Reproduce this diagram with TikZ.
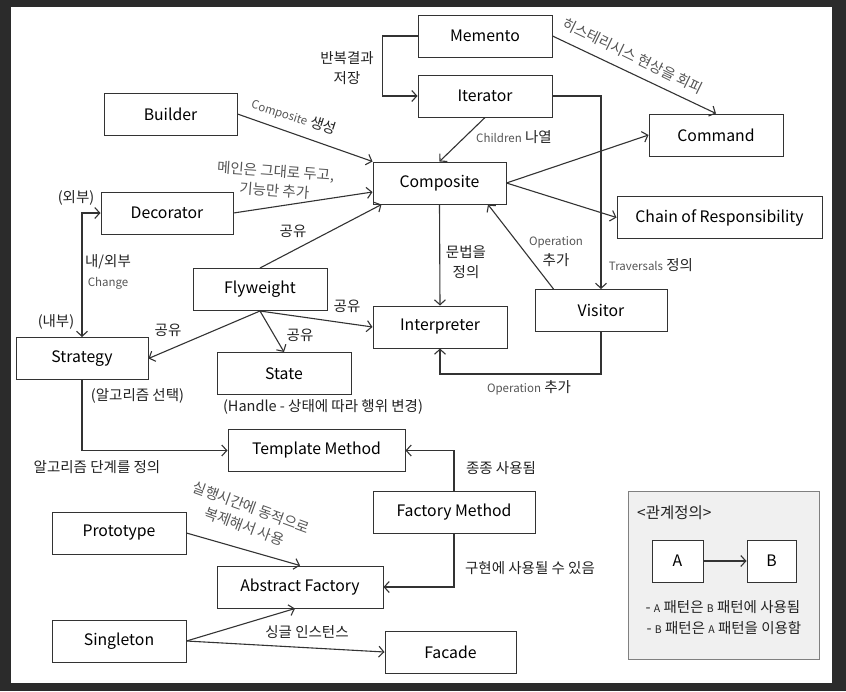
\documentclass[tikz,border=0pt]{standalone}
\usepackage{fontspec}
\setmainfont{Noto Sans CJK KR}
\usetikzlibrary{arrows.meta,calc}
\definecolor{bgdark}{HTML}{2B2B2B}
\definecolor{linec}{HTML}{333333}
\definecolor{txt}{HTML}{222222}
\definecolor{smallc}{HTML}{555555}
\definecolor{legf}{HTML}{F0F0F0}
\definecolor{legc}{HTML}{808080}
\newcommand\glat[1]{{\color{smallc}\fontsize{11.5}{13}\selectfont #1}}
\begin{document}
\begin{tikzpicture}[x=1pt,y=-1pt,
  box/.style={draw=linec, line width=1pt, fill=white, minimum height=42pt, inner sep=0pt,
    font=\fontsize{15.8}{18}\selectfont, text=black},
  conn/.style={draw=linec, line width=1.1pt, -{Straight Barb[length=5pt,width=11pt]}},
  lbl/.style={font=\fontsize{14.5}{20}\selectfont, text=txt, inner sep=0pt, align=center}
]
\fill[bgdark] (0,0) rectangle (846,691);
\fill[white] (11,7) rectangle (832,683);
\useasboundingbox (0,0) rectangle (846,691);

% boxes
\node[box, minimum width=134pt] (mem) at (485,36) {Memento};
\node[box, minimum width=134pt] (iter) at (485,96) {Iterator};
\node[box, minimum width=133pt] (builder) at (170.5,114) {Builder};
\node[box, minimum width=133pt] (comp) at (439.5,183) {Composite};
\node[box, minimum width=132pt] (dec) at (167,213) {Decorator};
\node[box, minimum width=134pt] (cmd) at (716,135) {Command};
\node[box, minimum width=205pt] (chain) at (719.5,217.5) {Chain of Responsibility};
\node[box, minimum width=134pt] (fly) at (260,289.5) {Flyweight};
\node[box, minimum width=132pt] (strat) at (82,358.5) {Strategy};
\node[box, minimum width=134pt] (state) at (284,373.5) {State};
\node[box, minimum width=134pt] (interp) at (440,327) {Interpreter};
\node[box, minimum width=132pt] (vis) at (601,310.5) {Visitor};
\node[box, minimum width=177pt] (tmpl) at (316.5,450.5) {Template Method};
\node[box, minimum width=162pt] (fm) at (454,512) {Factory Method};
\node[box, minimum width=134pt] (proto) at (119,533) {Prototype};
\node[box, minimum width=166pt] (af) at (300,587) {Abstract Factory};
\node[box, minimum width=134pt] (single) at (119,641) {Singleton};
\node[box, minimum width=131pt] (facade) at (450.5,652) {Facade};

% legend
\node[draw=legc, fill=legf, line width=1pt, minimum width=191pt, minimum height=168pt, inner sep=0pt] (legend) at (723.5,575) {};
\node[box, minimum width=51pt] (a) at (677.5,561) {A};
\node[box, minimum width=49pt] (b) at (771.5,561) {B};
\draw[conn] (a.east) -- (b.west);
\node[lbl, anchor=west, font=\fontsize{15.5}{18}\selectfont] (lgt) at (637,513) {<관계정의>};
\node[lbl, font=\fontsize{14.5}{16}\selectfont] (lg1) at (723,607) {- {\fontsize{10.5}{11}\selectfont A} 패턴은 {\fontsize{10.5}{11}\selectfont B} 패턴에 사용됨};
\node[lbl, font=\fontsize{14.5}{16}\selectfont] (lg2) at (724,628) {- {\fontsize{10.5}{11}\selectfont B} 패턴은 {\fontsize{10.5}{11}\selectfont A} 패턴을 이용함};

% connectors
\draw[conn] (mem.west) -- ++(-35,0) |- (iter.west);
\draw[conn] (mem.east) -- (cmd.north);
\draw[conn] (iter.south) -- (comp.north);
\draw[conn] (iter.east) -| (vis.north);
\draw[conn] (builder.east) -- (comp.north west);
\draw[conn] (dec.east) -- ([yshift=-9pt]comp.west);
\draw[conn] (fly.north) -- ([xshift=9pt]comp.south west);
\draw[conn] (comp.east) -- (cmd.west);
\draw[conn] (comp.east) -- (chain.west);
\draw[conn] (comp.south) -- (interp.north);
\draw[conn] ([xshift=19pt]vis.north west) -- ([xshift=48.5pt]comp.south);
\draw[conn] (vis.south) -- ++(0,42) -| (interp.south);
\draw[conn, {Straight Barb[length=5pt,width=11pt]}-{Straight Barb[length=5pt,width=11pt]}] (dec.west) -| (strat.north);
\draw[conn] (fly.south) -- (strat.east);
\draw[conn] (fly.south) -- (state.north);
\draw[conn] (fly.south) -- (interp.west);
\draw[conn] (strat.south) |- (tmpl.west);
\draw[conn] (fm.north) |- (tmpl.east);
\draw[conn] (fm.south) |- (af.east);
\draw[conn] (proto.east) -- (af.north);
\draw[conn] (single.east) -- ([xshift=-5pt]af.south);
\draw[conn] (single.east) -- (facade.west);

% labels
\node[lbl] (l1) at (347,68) {반복결과\\저장};
\node[lbl, rotate=-26, text=smallc] (l2) at (633,56) {히스테리시스 현상을 회피};
\node[lbl] (l3) at (514,137) {\glat{Children} 나열};
\node[lbl] (l4) at (651,265) {\glat{Traversals} 정의};
\node[lbl, rotate=-18] (l5) at (294,117) {\glat{Composite} 생성};
\node[lbl, rotate=-4, text=smallc] (l6) at (275,181) {메인은 그대로 두고,\\기능만 추가};
\node[lbl] (l7) at (76,198) {(외부)};
\node[lbl] (l8) at (293,231) {공유};
\node[lbl] (l9) at (108,262) {내/외부};
\node[lbl] (l10) at (108,283) {\glat{Change}};
\node[lbl] (l11) at (56,322) {(내부)};
\node[lbl] (l12) at (168,330) {공유};
\node[lbl] (l13) at (300,335) {공유};
\node[lbl] (l14) at (347,306) {공유};
\node[lbl] (l15) at (466,262) {문법을\\정의};
\node[lbl] (l16) at (556,252) {\glat{Operation}\\추가};
\node[lbl] (l17) at (529,388) {\glat{Operation} 추가};
\node[lbl] (l18) at (137.5,396) {(알고리즘 선택)};
\node[lbl] (l19) at (323,407) {(Handle - 상태에 따라 행위 변경)};
\node[lbl] (l20) at (97,467) {알고리즘 단계를 정의};
\node[lbl] (l21) at (501,468) {종종 사용됨};
\node[lbl] (l22) at (530,568) {구현에 사용될 수 있음};
\node[lbl, rotate=-20, text=smallc] (l23) at (248,517) {실행시간에 동적으로\\복제해서 사용};
\node[lbl] (l24) at (307,632) {싱글 인스턴스};
\end{tikzpicture}
\end{document}
